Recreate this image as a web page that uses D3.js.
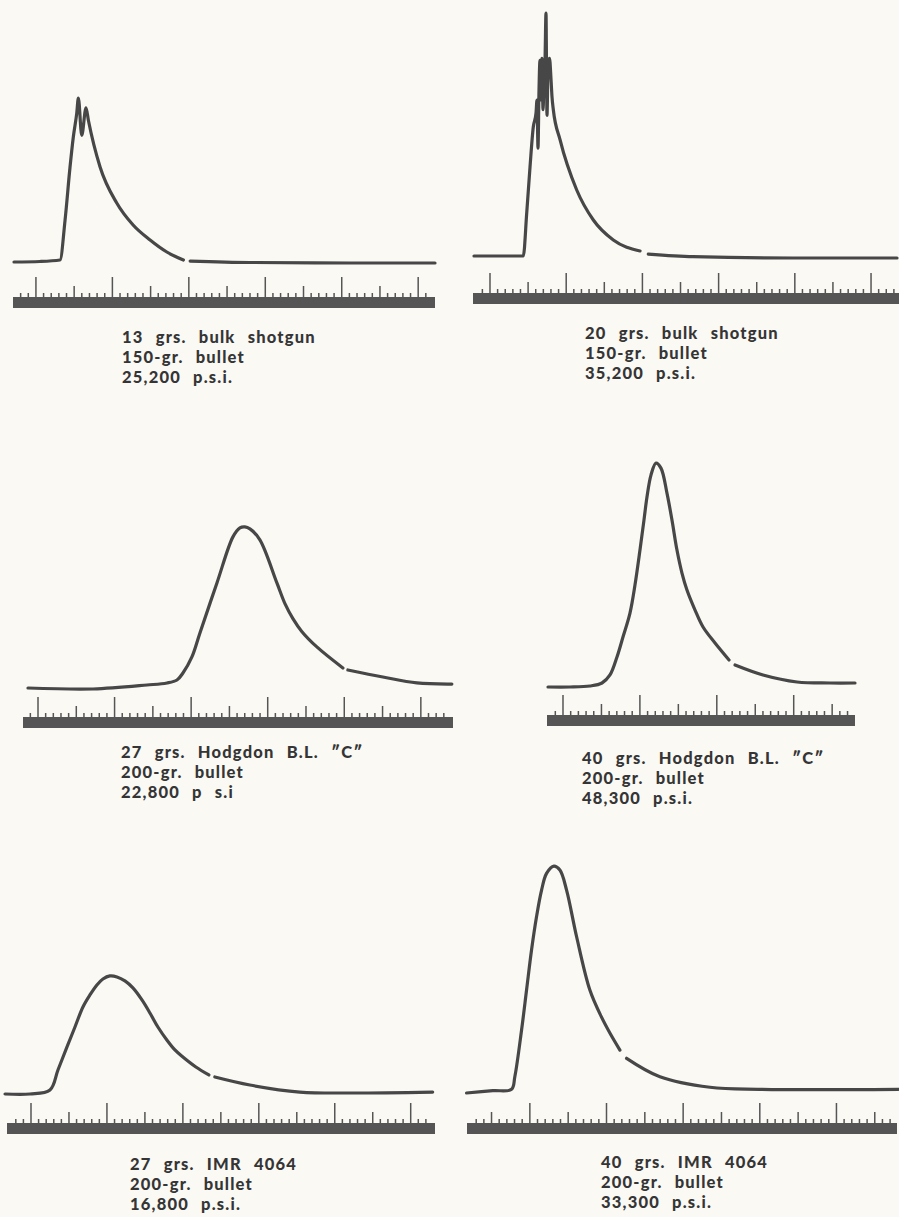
<!DOCTYPE html>
<html><head><meta charset="utf-8">
<script src="https://cdn.jsdelivr.net/npm/d3@7"></script>
<style>
html,body{margin:0;padding:0;background:#faf9f4;}
svg{display:block;}
</style></head><body>
<svg id="chart" width="899" height="1217"></svg>
<script>
// ---------------- DATA ----------------
const chargeLabels = ["13 grs. bulk shotgun", "20 grs. bulk shotgun", "27 grs. Hodgdon B.L. \u2033C\u2033",
                      "40 grs. Hodgdon B.L. \u2033C\u2033", "27 grs. IMR 4064", "40 grs. IMR 4064"];
const bulletLabels = ["150-gr. bullet", "150-gr. bullet", "200-gr. bullet", "200-gr. bullet", "200-gr. bullet", "200-gr. bullet"];
const pressureLabels = ["25,200 p.s.i.", "35,200 p.s.i.", "22,800 p s.i", "48,300 p.s.i.", "16,800 p.s.i.", "33,300 p.s.i."];
const peakPressures = [25200, 35200, 22800, 48300, 16800, 33300];   // p.s.i.
// time scale extent in scale divisions (0 = first long tick, long tick every 10 divisions)
const timeScaleExtents = [[-3.0, 52.2], [-2.23, 53.67], [-1.96, 54.2], [-2.08, 37.97], [-3.16, 53.2], [-8.2, 47.9]];

// pressure traces: [time (divisions), pressure (thousand p.s.i.)]; null = gap in trace
const trace1 = [[-2.87,0.15],[0.53,0.23],[3.15,0.46],[3.81,6.56],[4.46,14.66],[4.89,19.24],[5.34,22.9],[5.55,25.2],
  [5.99,19.5],[6.55,23.7],[6.86,21.8],[8.39,14.66],[10.57,9.16],[12.71,5.8],[14.93,3.51],[17.12,1.68],[19.29,0.46],
  null,[20.17,0.3],[28.02,0.08],[41.11,0],[52.2,0]];
const trace2 = [[-2.1,0.29],[4.37,0.29],[4.82,6.47],[5.25,13.07],[5.68,18.82],[6.04,20.83],[6.17,22.7],[6.30,15.8],
  [6.43,24.1],[6.56,28.4],[6.69,22.7],[6.82,28.7],[6.96,21.3],[7.09,25.6],[7.22,28.4],[7.35,35.2],[7.41,28.4],
  [7.48,20.5],[7.61,27.0],[7.81,28.7],[8.01,25.6],[8.14,23.1],[8.31,21.3],[9.19,17.0],[11.38,9.77],[13.56,5.46],
  [16.18,2.59],[19.69,1.01],null,[20.77,0.57],[26.64,0.19],[39.76,0],[53.41,0]];
const trace3 = [[-1.31,0.14],[7.18,0],[14.23,0.56],[16.84,0.85],[18.15,1.27],[18.93,2.25],[20.10,4.51],[21.15,7.89],
  [23.37,14.93],[25.46,21.41],[26.37,22.68],[27.02,22.82],[27.68,22.54],[28.98,20.99],[31.20,14.93],[32.3,11.9],
  [33.29,9.9],[34.42,8.14],[36.42,5.92],[39.82,2.96],null,[40.47,2.68],[45.04,1.69],[49.48,0.85],[54.05,0.70]];
const trace4 = [[-1.95,0],[0.91,0],[3.51,0.22],[5.07,0.86],[6.11,2.59],[7.02,6.47],[7.80,10.78],[8.71,15.95],
  [9.36,21.98],[10.01,29.53],[10.53,35.99],[10.92,40.95],[11.44,45.69],[12.09,48.28],[12.74,47.20],[13.52,41.81],
  [14.17,35.99],[14.82,29.53],[15.47,24.57],[16.12,20.91],[17.17,16.59],[18.21,12.93],[19.77,9.48],[21.59,5.82],
  null,[22.37,4.74],[26.01,2.59],[30.43,1.08],[34.72,0.86],[37.97,0.86]];
const trace5 = [[-3.42,0],[-0.13,0],[2.5,0.57],[3.55,3.42],[4.74,6.70],[5.79,9.54],[6.84,12.39],[7.76,14.10],
  [8.68,15.53],[9.47,16.38],[10.39,16.81],[11.32,16.67],[12.37,16.10],[13.42,15.10],[14.61,13.39],[15.66,11.54],
  [16.71,9.54],[17.89,7.69],[18.95,6.27],[20.0,5.27],[21.71,3.85],[23.42,2.71],null,[24.21,2.42],[28.82,1.28],
  [35.39,0.28],[41.97,0.14],[52.89,0.28]];
const trace6 = [[-8.26,0],[-4.83,0.34],[-2.39,0.54],[-1.96,2.39],[-1.08,9.24],[-0.43,15.10],[0.22,20.97],[0.87,25.85],
  [1.53,29.77],[2.18,32.21],[3.13,33.28],[3.92,32.70],[4.79,29.77],[6.10,22.92],[7.83,15.10],[9.32,11.2],[10.44,8.8],
  [11.75,6.3],null,[12.62,5.09],[16.97,2.39],[23.50,0.84],[30.03,0.54],[48.08,0.54]];
const traces = [trace1, trace2, trace3, trace4, trace5, trace6];

// ---------------- LAYOUT ----------------
const frames = [
  {barLeft:13,  barRight:435, barTop:297,  zeroY:263,  plotH:165, labelX:122, labelY:343},
  {barLeft:473, barRight:899, barTop:293,  zeroY:258,  plotH:245, labelX:585, labelY:339},
  {barLeft:23,  barRight:453, barTop:717,  zeroY:689,  plotH:162, labelX:121, labelY:758},
  {barLeft:547, barRight:855, barTop:715,  zeroY:687,  plotH:224, labelX:582, labelY:764},
  {barLeft:7,   barRight:435, barTop:1123, zeroY:1094, plotH:118, labelX:130, labelY:1170},
  {barLeft:467, barRight:897, barTop:1123, zeroY:1093, plotH:227, labelX:601, labelY:1168}
];
const ink = "#474747", barInk = "#555555", textInk = "#353535";
const barH = 11, majorLen = 20, midLen = 11, minorLen = 4, lineGap = 20;

const svg = d3.select("#chart");
svg.append("rect").attr("width", 899).attr("height", 1217).attr("fill", "#faf9f4");

frames.forEach((f, k) => {
  const g = svg.append("g");
  const x = d3.scaleLinear().domain(timeScaleExtents[k]).range([f.barLeft, f.barRight]);
  const y = d3.scaleLinear().domain([0, peakPressures[k] / 1000]).range([f.zeroY, f.zeroY - f.plotH]);

  // scale bar
  g.append("rect").attr("x", f.barLeft).attr("y", f.barTop)
    .attr("width", f.barRight - f.barLeft).attr("height", barH).attr("fill", barInk);
  const ticks = d3.range(Math.ceil(timeScaleExtents[k][0]), Math.floor(timeScaleExtents[k][1]) + 1)
    .filter(i => x(i) - f.barLeft > 4 && f.barRight - x(i) > 3);
  g.selectAll("line.tick").data(ticks).join("line")
    .attr("x1", d => x(d)).attr("x2", d => x(d))
    .attr("y1", f.barTop + 1)
    .attr("y2", d => { const m = ((d % 10) + 10) % 10; return f.barTop - (m === 0 ? majorLen : m === 5 ? midLen : minorLen); })
    .attr("stroke", barInk).attr("stroke-width", 1.5);

  // pressure trace
  const curve = k < 2 ? d3.curveMonotoneX : d3.curveCatmullRom.alpha(0.5);
  const line = d3.line().defined(d => d !== null).x(d => x(d[0])).y(d => y(d[1])).curve(curve);
  g.append("path").attr("d", line(traces[k])).attr("fill", "none").attr("stroke", ink)
    .attr("stroke-width", 3.2).attr("stroke-linecap", "round").attr("stroke-linejoin", "round");

  // caption
  const t = g.append("text").attr("x", f.labelX).attr("y", f.labelY)
    .attr("font-family", "Lato, 'Noto Sans', sans-serif").attr("font-weight", 900)
    .attr("font-size", 16.5).attr("fill", textInk).attr("letter-spacing", 1.2).attr("word-spacing", 7);
  [chargeLabels[k], bulletLabels[k], pressureLabels[k]].forEach((s, j) => {
    t.append("tspan").attr("x", f.labelX).attr("y", f.labelY + j * lineGap).text(s);
  });
});
</script></body></html>
